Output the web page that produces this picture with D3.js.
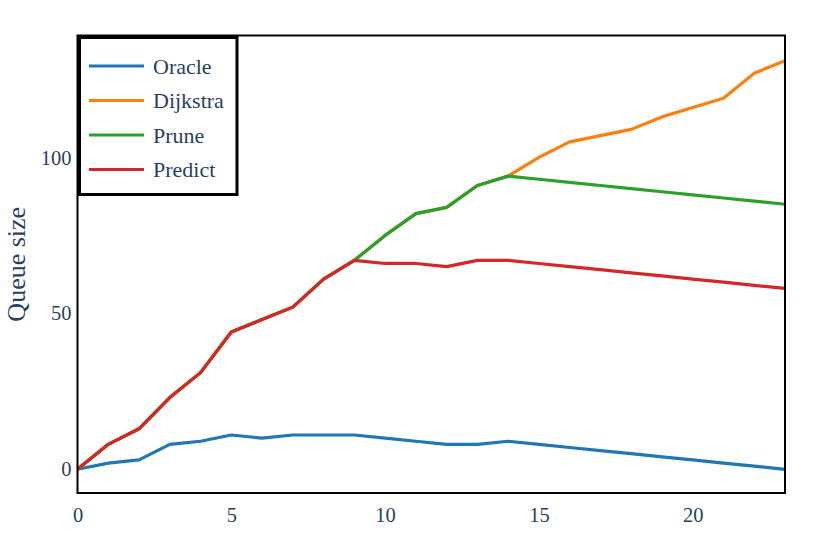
<!DOCTYPE html>
<html><head><meta charset="utf-8">
<script src="https://cdn.jsdelivr.net/npm/d3@7"></script>
<style>body{margin:0;background:#fff}svg{display:block}</style>
</head><body>
<script>
const steps = d3.range(0, 24);
const oracle   = [0,2,3,8,9,11,10,11,11,11,10,9,8,8,9,8,7,6,5,4,3,2,1,0];
const dijkstra = [0,8,13,23,31,44,48,52,61,67,75,82,84,91,94,100,105,107,109,113,116,119,127,131];
const prune    = [0,8,13,23,31,44,48,52,61,67,75,82,84,91,94,93,92,91,90,89,88,87,86,85];
const predict  = [0,8,13,23,31,44,48,52,61,67,66,66,65,67,67,66,65,64,63,62,61,60,59,58];
const seriesNames = ["Oracle","Dijkstra","Prune","Predict"];
const seriesValues = [oracle, dijkstra, prune, predict];
const colors = ["#1f77b4","#ff7f0e","#2ca02c","#d62728"];
const xTicks = [0,5,10,15,20];
const yTicks = [0,50,100];

const W = 830, H = 556;
const m = {l:77.5, r:45, t:35.5, b:63};
const svg = d3.select("body").append("svg").attr("width",W).attr("height",H);
const x = d3.scaleLinear().domain([0,23]).range([m.l, W-m.r]);
const y = d3.scaleLinear().domain([-7.6,139.1]).range([H-m.b, m.t]);
const font = "'Liberation Serif', 'DejaVu Serif', serif";
const txt = "#2a3f5f";

const line = d3.line().x((d,i)=>x(steps[i])).y(d=>y(d));
seriesValues.forEach((vals,k)=>{
  svg.append("path").datum(vals).attr("d",line)
    .attr("fill","none").attr("stroke",colors[k]).attr("stroke-width",3.2)
    .attr("stroke-linejoin","round");
});

// frame
svg.append("rect").attr("x",m.l).attr("y",m.t).attr("width",W-m.r-m.l).attr("height",H-m.b-m.t)
  .attr("fill","none").attr("stroke","#000").attr("stroke-width",2);

// axes
const xa = svg.append("g").attr("transform",`translate(0,${H-m.b})`)
  .call(d3.axisBottom(x).tickValues(xTicks).tickSize(0).tickPadding(14).tickFormat(d3.format("d")));
const ya = svg.append("g").attr("transform",`translate(${m.l},0)`)
  .call(d3.axisLeft(y).tickValues(yTicks).tickSize(0).tickPadding(6).tickFormat(d3.format("d")));
[xa,ya].forEach(g=>{
  g.select(".domain").remove();
  g.selectAll("text").attr("font-family",font).attr("font-size",20.5).attr("fill",txt);
});

svg.append("text").attr("transform",`translate(25,${(m.t+H-m.b)/2}) rotate(-90)`)
  .attr("text-anchor","middle").attr("font-family",font).attr("font-size",26).attr("fill",txt)
  .text("Queue size");

// legend
const lg = svg.append("g");
lg.append("rect").attr("x",79.5).attr("y",37.5).attr("width",157.5).attr("height",157)
  .attr("fill","#fff").attr("stroke","#000").attr("stroke-width",3);
seriesNames.forEach((n,k)=>{
  const yy = 66 + k*34.5;
  lg.append("line").attr("x1",89).attr("x2",144).attr("y1",yy).attr("y2",yy)
    .attr("stroke",colors[k]).attr("stroke-width",3.2);
  lg.append("text").attr("x",153).attr("y",yy).attr("dy","0.35em")
    .attr("font-family",font).attr("font-size",22).attr("fill",txt).text(n);
});
</script>
</body></html>
